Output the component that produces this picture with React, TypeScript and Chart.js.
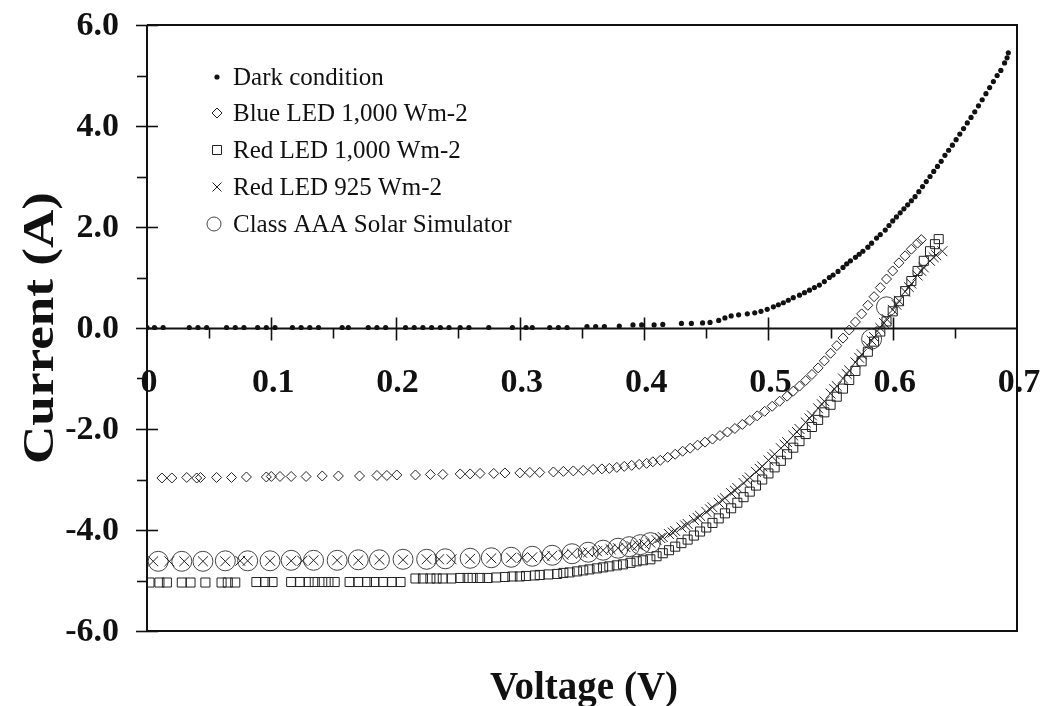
import React, { useEffect, useRef } from 'react';
import { Chart, registerables } from 'chart.js';

Chart.register(...registerables);

// ---------- data: [voltage (V), current (A)] ----------
const darkCondition: [number, number][] = [
  [0.000, 0.01], [0.006, 0.01], [0.013, 0.01], [0.034, 0.01], [0.041, 0.01], [0.048, 0.01],
  [0.064, 0.01], [0.071, 0.01], [0.078, 0.01], [0.089, 0.01], [0.096, 0.01], [0.103, 0.01],
  [0.117, 0.01], [0.124, 0.01], [0.131, 0.01], [0.138, 0.01], [0.157, 0.01], [0.162, 0.01],
  [0.178, 0.01], [0.185, 0.01], [0.192, 0.01], [0.208, 0.01], [0.215, 0.01], [0.222, 0.01],
  [0.229, 0.01], [0.236, 0.01], [0.243, 0.01], [0.252, 0.01], [0.259, 0.01], [0.275, 0.01],
  [0.294, 0.01], [0.305, 0.01], [0.310, 0.01], [0.324, 0.01], [0.331, 0.01], [0.338, 0.01],
  [0.354, 0.03], [0.361, 0.03], [0.368, 0.03], [0.380, 0.04], [0.391, 0.06], [0.398, 0.06],
  [0.408, 0.06], [0.415, 0.07], [0.430, 0.09], [0.438, 0.09], [0.447, 0.10], [0.453, 0.11],
  [0.460, 0.15], [0.465, 0.20], [0.470, 0.24], [0.476, 0.26], [0.483, 0.28], [0.489, 0.30],
  [0.494, 0.33], [0.499, 0.37], [0.504, 0.42], [0.508, 0.46], [0.512, 0.50], [0.516, 0.55],
  [0.520, 0.60], [0.525, 0.65], [0.529, 0.70], [0.533, 0.75], [0.537, 0.80], [0.541, 0.85],
  [0.545, 0.92], [0.549, 1.00], [0.552, 1.05], [0.556, 1.12], [0.560, 1.20], [0.563, 1.27],
  [0.566, 1.33], [0.570, 1.40], [0.573, 1.46], [0.576, 1.52], [0.580, 1.60], [0.583, 1.68],
  [0.587, 1.78], [0.590, 1.85], [0.594, 1.94], [0.597, 2.03], [0.600, 2.12], [0.603, 2.20],
  [0.606, 2.28], [0.609, 2.36], [0.612, 2.44], [0.615, 2.52], [0.618, 2.60], [0.621, 2.70],
  [0.624, 2.80], [0.627, 2.90], [0.630, 3.00], [0.633, 3.10], [0.636, 3.20], [0.639, 3.30],
  [0.642, 3.42], [0.645, 3.52], [0.648, 3.62], [0.651, 3.73], [0.654, 3.84], [0.657, 3.95],
  [0.660, 4.06], [0.663, 4.17], [0.666, 4.28], [0.669, 4.40], [0.672, 4.52], [0.675, 4.64],
  [0.678, 4.76], [0.681, 4.88], [0.684, 5.00], [0.687, 5.10], [0.690, 5.25], [0.692, 5.35],
  [0.693, 5.45],
];

const blueLed1000: [number, number][] = [
  [0.012, -2.97], [0.020, -2.97], [0.032, -2.96], [0.040, -2.97], [0.043, -2.96], [0.056, -2.96],
  [0.068, -2.96], [0.080, -2.95], [0.096, -2.95], [0.100, -2.94], [0.107, -2.94], [0.116, -2.94],
  [0.128, -2.94], [0.141, -2.93], [0.154, -2.93], [0.171, -2.93], [0.185, -2.92], [0.193, -2.92],
  [0.201, -2.91], [0.216, -2.91], [0.228, -2.90], [0.238, -2.90], [0.252, -2.89], [0.260, -2.89],
  [0.268, -2.88], [0.279, -2.88], [0.288, -2.87], [0.300, -2.87], [0.308, -2.86], [0.316, -2.86],
  [0.327, -2.85], [0.335, -2.84], [0.343, -2.83], [0.351, -2.82], [0.359, -2.80], [0.366, -2.79],
  [0.372, -2.78], [0.378, -2.76], [0.384, -2.74], [0.390, -2.72], [0.396, -2.70], [0.402, -2.68],
  [0.407, -2.65], [0.413, -2.62], [0.419, -2.56], [0.425, -2.50], [0.431, -2.44], [0.437, -2.38],
  [0.443, -2.32], [0.449, -2.26], [0.455, -2.20], [0.461, -2.13], [0.467, -2.06], [0.473, -1.99],
  [0.479, -1.91], [0.485, -1.83], [0.491, -1.74], [0.497, -1.65], [0.503, -1.55], [0.509, -1.45],
  [0.515, -1.35], [0.520, -1.25], [0.525, -1.15], [0.530, -1.04], [0.535, -0.92], [0.540, -0.79],
  [0.545, -0.65], [0.550, -0.50], [0.555, -0.35], [0.560, -0.20], [0.565, -0.04], [0.570, 0.12],
  [0.575, 0.28], [0.580, 0.45], [0.585, 0.62], [0.590, 0.80], [0.595, 0.97], [0.600, 1.13],
  [0.605, 1.29], [0.610, 1.43], [0.615, 1.56], [0.620, 1.68], [0.623, 1.75],
];

const redLed1000: [number, number][] = [
  [0.002, -5.04], [0.010, -5.04], [0.016, -5.04], [0.028, -5.04], [0.035, -5.04], [0.047, -5.04],
  [0.060, -5.04], [0.065, -5.04], [0.071, -5.04], [0.088, -5.03], [0.095, -5.03], [0.101, -5.03],
  [0.116, -5.03], [0.123, -5.03], [0.130, -5.03], [0.135, -5.03], [0.141, -5.03], [0.146, -5.03],
  [0.151, -5.03], [0.163, -5.03], [0.170, -5.03], [0.177, -5.03], [0.183, -5.03], [0.190, -5.03],
  [0.197, -5.03], [0.204, -5.03], [0.216, -4.96], [0.222, -4.96], [0.228, -4.96], [0.233, -4.96],
  [0.238, -4.96], [0.245, -4.96], [0.252, -4.95], [0.258, -4.95], [0.262, -4.95], [0.268, -4.95],
  [0.274, -4.95], [0.281, -4.94], [0.288, -4.93], [0.294, -4.92], [0.300, -4.92], [0.305, -4.91],
  [0.312, -4.90], [0.316, -4.89], [0.323, -4.88], [0.330, -4.87], [0.335, -4.85], [0.340, -4.84],
  [0.346, -4.82], [0.351, -4.80], [0.356, -4.78], [0.362, -4.76], [0.367, -4.74], [0.372, -4.72],
  [0.378, -4.70], [0.383, -4.68], [0.389, -4.65], [0.394, -4.62], [0.399, -4.60], [0.405, -4.58],
  [0.410, -4.52], [0.415, -4.46], [0.420, -4.40], [0.425, -4.33], [0.430, -4.26], [0.435, -4.19],
  [0.440, -4.11], [0.445, -4.03], [0.450, -3.95], [0.455, -3.86], [0.460, -3.77], [0.465, -3.67],
  [0.470, -3.57], [0.475, -3.46], [0.480, -3.35], [0.485, -3.24], [0.490, -3.12], [0.495, -3.00],
  [0.500, -2.88], [0.505, -2.76], [0.510, -2.63], [0.515, -2.50], [0.520, -2.37], [0.525, -2.24],
  [0.530, -2.10], [0.535, -1.96], [0.540, -1.82], [0.545, -1.67], [0.550, -1.52], [0.555, -1.36],
  [0.560, -1.20], [0.565, -1.03], [0.570, -0.85], [0.575, -0.66], [0.580, -0.47], [0.585, -0.27],
  [0.590, -0.07], [0.595, 0.13], [0.600, 0.33], [0.605, 0.53], [0.610, 0.73], [0.615, 0.93],
  [0.620, 1.13], [0.625, 1.33], [0.630, 1.52], [0.634, 1.66], [0.637, 1.76],
];

const redLed925: [number, number][] = [
  [0.005, -4.62], [0.018, -4.62], [0.030, -4.62], [0.045, -4.62], [0.063, -4.62], [0.075, -4.61],
  [0.081, -4.61], [0.099, -4.61], [0.116, -4.61], [0.125, -4.61], [0.134, -4.60], [0.153, -4.60],
  [0.170, -4.60], [0.187, -4.59], [0.206, -4.59], [0.225, -4.58], [0.235, -4.58], [0.245, -4.58],
  [0.260, -4.57], [0.277, -4.56], [0.293, -4.55], [0.302, -4.55], [0.310, -4.54], [0.320, -4.52],
  [0.326, -4.51], [0.335, -4.49], [0.342, -4.47], [0.350, -4.45], [0.355, -4.44], [0.362, -4.42],
  [0.367, -4.40], [0.373, -4.38], [0.379, -4.36], [0.385, -4.34], [0.390, -4.32], [0.395, -4.30],
  [0.400, -4.28], [0.405, -4.25], [0.410, -4.20], [0.413, -4.16], [0.415, -4.14], [0.420, -4.08],
  [0.423, -4.05], [0.425, -4.02], [0.430, -3.95], [0.433, -3.91], [0.435, -3.88], [0.440, -3.80],
  [0.443, -3.76], [0.445, -3.72], [0.450, -3.64], [0.453, -3.59], [0.455, -3.55], [0.460, -3.46],
  [0.463, -3.41], [0.465, -3.37], [0.470, -3.27], [0.473, -3.22], [0.475, -3.17], [0.480, -3.07],
  [0.483, -3.01], [0.485, -2.96], [0.490, -2.85], [0.493, -2.79], [0.495, -2.74], [0.500, -2.62],
  [0.503, -2.55], [0.505, -2.50], [0.510, -2.38], [0.513, -2.31], [0.515, -2.26], [0.520, -2.13],
  [0.523, -2.06], [0.525, -2.00], [0.530, -1.87], [0.533, -1.79], [0.535, -1.73], [0.540, -1.59],
  [0.543, -1.51], [0.545, -1.45], [0.550, -1.30], [0.553, -1.21], [0.555, -1.15], [0.560, -1.00],
  [0.563, -0.91], [0.565, -0.84], [0.570, -0.68], [0.573, -0.59], [0.575, -0.52], [0.580, -0.35],
  [0.583, -0.25], [0.585, -0.18], [0.590, 0.00], [0.593, 0.10], [0.595, 0.18], [0.600, 0.36],
  [0.603, 0.46], [0.605, 0.54], [0.610, 0.72], [0.613, 0.81], [0.615, 0.88], [0.620, 1.04],
  [0.623, 1.13], [0.625, 1.20], [0.630, 1.33], [0.633, 1.40], [0.635, 1.44], [0.640, 1.52],
];

const solarSimulator: [number, number][] = [
  [0.009, -4.62], [0.028, -4.62], [0.045, -4.62], [0.063, -4.61], [0.081, -4.61], [0.099, -4.61],
  [0.116, -4.60], [0.134, -4.60], [0.153, -4.60], [0.170, -4.59], [0.187, -4.59], [0.206, -4.58],
  [0.225, -4.58], [0.240, -4.57], [0.260, -4.56], [0.277, -4.55], [0.293, -4.54], [0.310, -4.52],
  [0.326, -4.50], [0.342, -4.47], [0.355, -4.44], [0.367, -4.40], [0.379, -4.36], [0.388, -4.33],
  [0.397, -4.29], [0.405, -4.25], [0.583, -0.22], [0.595, 0.42],
];

const seriesNames = [
  'Dark condition',
  'Blue LED 1,000 Wm-2',
  'Red LED 1,000 Wm-2',
  'Red LED 925 Wm-2',
  'Class AAA Solar Simulator',
];

const yMajorTicks = [6, 4, 2, 0, -2, -4, -6];
const yTickLabels = ['6.0', '4.0', '2.0', '0.0', '-2.0', '-4.0', '-6.0'];
const yMinorTicks = [5, 3, 1, -1, -3, -5];
const xMajorTicks = [0.1, 0.2, 0.3, 0.4, 0.5, 0.6];
const xMinorTicks = [0.05, 0.15, 0.25, 0.35, 0.45, 0.55, 0.65];
const xLabelValues = [0, 0.1, 0.2, 0.3, 0.4, 0.5, 0.6, 0.7];
const xTickLabels = ['0', '0.1', '0.2', '0.3', '0.4', '0.5', '0.6', '0.7'];

const SERIF = "'Liberation Serif', 'Times New Roman', serif";
const INK = '#111';

const toPoints = (arr: [number, number][]) => arr.map(([x, y]) => ({ x, y }));

function drawMarker(ctx: CanvasRenderingContext2D, kind: number, x: number, y: number) {
  ctx.save();
  ctx.strokeStyle = '#222';
  ctx.fillStyle = '#111';
  ctx.lineWidth = 1;
  ctx.beginPath();
  if (kind === 0) {
    ctx.arc(x, y, 2.6, 0, Math.PI * 2);
    ctx.fill();
  } else if (kind === 1) {
    ctx.moveTo(x, y - 5); ctx.lineTo(x + 5, y); ctx.lineTo(x, y + 5); ctx.lineTo(x - 5, y); ctx.closePath();
    ctx.stroke();
  } else if (kind === 2) {
    ctx.rect(x - 4.5, y - 4.5, 9, 9);
    ctx.stroke();
  } else if (kind === 3) {
    ctx.moveTo(x - 4.5, y - 4.5); ctx.lineTo(x + 4.5, y + 4.5);
    ctx.moveTo(x + 4.5, y - 4.5); ctx.lineTo(x - 4.5, y + 4.5);
    ctx.stroke();
  } else {
    ctx.strokeStyle = '#444';
    ctx.arc(x, y, 7, 0, Math.PI * 2);
    ctx.stroke();
  }
  ctx.restore();
}

const axesPlugin = {
  id: 'paperAxes',
  beforeDatasetsDraw(chart: any) {
    const { ctx, chartArea: a, scales } = chart;
    const xs = scales.x;
    const ys = scales.y;
    ctx.save();
    ctx.strokeStyle = INK;
    ctx.lineWidth = 2;
    // frame (top, right, bottom)
    ctx.beginPath();
    ctx.moveTo(a.left, a.top);
    ctx.lineTo(a.right, a.top);
    ctx.lineTo(a.right, a.bottom);
    ctx.lineTo(a.left, a.bottom);
    ctx.stroke();
    // left axis
    ctx.beginPath();
    ctx.moveTo(a.left, a.top);
    ctx.lineTo(a.left, a.bottom);
    ctx.stroke();
    ctx.lineWidth = 1.6;
    yMajorTicks.forEach((v) => {
      const py = Math.round(ys.getPixelForValue(v)) + 0.5;
      ctx.beginPath();
      ctx.moveTo(a.left - 11, py);
      ctx.lineTo(a.left + 11, py);
      ctx.stroke();
    });
    yMinorTicks.forEach((v) => {
      const py = Math.round(ys.getPixelForValue(v)) + 0.5;
      ctx.beginPath();
      ctx.moveTo(a.left - 10, py);
      ctx.lineTo(a.left, py);
      ctx.stroke();
    });
    // x axis at I = 0
    const y0 = Math.round(ys.getPixelForValue(0)) + 0.5;
    ctx.lineWidth = 2;
    ctx.beginPath();
    ctx.moveTo(a.left, y0);
    ctx.lineTo(a.right, y0);
    ctx.stroke();
    ctx.lineWidth = 1.6;
    xMajorTicks.forEach((v) => {
      const px = Math.round(xs.getPixelForValue(v)) + 0.5;
      ctx.beginPath();
      ctx.moveTo(px, y0 - 11);
      ctx.lineTo(px, y0 + 12);
      ctx.stroke();
    });
    xMinorTicks.forEach((v) => {
      const px = Math.round(xs.getPixelForValue(v)) + 0.5;
      ctx.beginPath();
      ctx.moveTo(px, y0);
      ctx.lineTo(px, y0 + 10);
      ctx.stroke();
    });

    ctx.fillStyle = INK;
    // y tick labels
    ctx.font = `bold 34px ${SERIF}`;
    ctx.textAlign = 'right';
    ctx.textBaseline = 'middle';
    yMajorTicks.forEach((v, i) => {
      ctx.fillText(yTickLabels[i], a.left - 28, ys.getPixelForValue(v) + 1);
    });
    // x tick labels (drawn under the data, as in the original)
    ctx.textAlign = 'center';
    ctx.textBaseline = 'alphabetic';
    const yz = ys.getPixelForValue(0);
    xLabelValues.forEach((v, i) => {
      ctx.fillText(xTickLabels[i], xs.getPixelForValue(v) + 2, yz + 64);
    });

    // axis titles
    ctx.font = `bold 39px ${SERIF}`;
    ctx.fillText('Voltage (V)', (a.left + a.right) / 2 + 2, 699);
    ctx.save();
    ctx.font = `bold 44px ${SERIF}`;
    const label = 'Current (A)';
    const w = ctx.measureText(label).width;
    ctx.translate(53, 328);
    ctx.rotate(-Math.PI / 2);
    ctx.scale(272 / w, 1);
    ctx.textAlign = 'center';
    ctx.textBaseline = 'alphabetic';
    ctx.fillText(label, 0, 0);
    ctx.restore();

    // legend
    ctx.font = `25px ${SERIF}`;
    ctx.textAlign = 'left';
    ctx.textBaseline = 'middle';
    const rowY = [77, 113, 150, 187, 224];
    seriesNames.forEach((name, i) => {
      drawMarker(ctx, i, i === 4 ? 214 : 217, rowY[i]);
      ctx.fillText(name, 233, rowY[i] + 1);
    });
    ctx.restore();
  },
};

export default function App() {
  const canvasRef = useRef<HTMLCanvasElement | null>(null);

  useEffect(() => {
    const canvas = canvasRef.current;
    if (!canvas) return;
    const chart = new Chart(canvas, {
      type: 'scatter',
      data: {
        datasets: [
          {
            label: seriesNames[0],
            data: toPoints(darkCondition),
            pointStyle: 'circle',
            pointRadius: 2.6,
            backgroundColor: '#111',
            borderColor: '#111',
            borderWidth: 0,
          },
          {
            label: seriesNames[1],
            data: toPoints(blueLed1000),
            pointStyle: 'rectRot',
            pointRadius: 5,
            backgroundColor: 'rgba(0,0,0,0)',
            borderColor: '#222',
            borderWidth: 1,
          },
          {
            label: seriesNames[2],
            data: toPoints(redLed1000),
            pointStyle: 'rect',
            pointRadius: 6.4,
            backgroundColor: 'rgba(0,0,0,0)',
            borderColor: '#222',
            borderWidth: 1,
          },
          {
            label: seriesNames[3],
            data: toPoints(redLed925),
            pointStyle: 'crossRot',
            pointRadius: 7,
            backgroundColor: 'rgba(0,0,0,0)',
            borderColor: '#222',
            borderWidth: 1,
          },
          {
            label: seriesNames[4],
            data: toPoints(solarSimulator),
            pointStyle: 'circle',
            pointRadius: 10,
            backgroundColor: 'rgba(0,0,0,0)',
            borderColor: '#444',
            borderWidth: 1,
          },
        ],
      },
      options: {
        animation: false,
        responsive: false,
        devicePixelRatio: 1,
        layout: { padding: { left: 147, right: 31, top: 25, bottom: 75 } },
        plugins: { legend: { display: false }, tooltip: { enabled: false } },
        scales: {
          x: { type: 'linear', min: 0, max: 0.7, display: false },
          y: { type: 'linear', min: -6, max: 6, display: false },
        },
      },
      plugins: [axesPlugin],
    });
    return () => chart.destroy();
  }, []);

  return (
    <div style={{ position: 'absolute', left: 0, top: 0, width: 1048, height: 706, background: '#fff' }}>
      <canvas ref={canvasRef} width={1048} height={706} style={{ display: 'block' }} />
    </div>
  );
}
